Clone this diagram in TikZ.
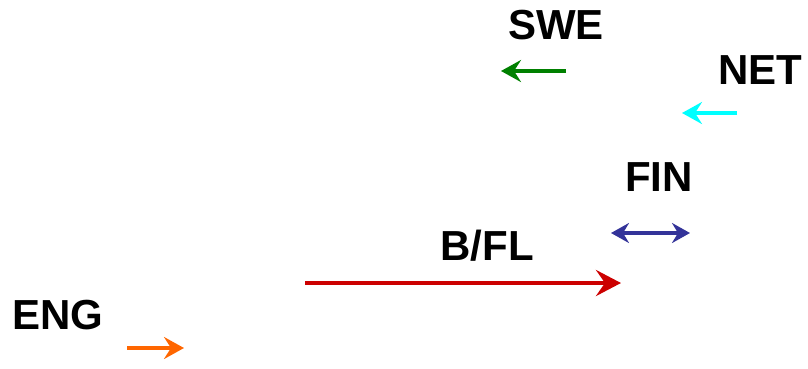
\documentclass[tikz,border=0pt]{standalone}
\usepackage{fontspec}
\setmainfont{Liberation Sans}
\usetikzlibrary{arrows.meta}
\definecolor{cgreen}{RGB}{0,128,0}
\definecolor{ccyan}{RGB}{0,255,255}
\definecolor{cnavy}{RGB}{51,51,153}
\definecolor{cred}{RGB}{204,0,0}
\definecolor{corange}{RGB}{255,102,0}
\tikzset{
  lbl/.style={font=\fontsize{42}{42}\selectfont\bfseries, inner sep=0pt, anchor=center},
  arr/.style={line width=4pt, -{Stealth[length=20pt,width=22pt,inset=7pt]}},
  darr/.style={line width=4pt, {Stealth[length=18pt,width=20pt,inset=6pt]}-{Stealth[length=18pt,width=20pt,inset=6pt]}},
}
\begin{document}
\begin{tikzpicture}[x=1pt,y=-1pt]
\useasboundingbox (0,0) rectangle (808,368);
\node[lbl] (swe) at (556,25) {SWE};
\node[lbl] (net) at (760,70) {NET};
\node[lbl] (fin) at (659,177) {FIN};
\node[lbl] (bfl) at (487,246) {B/FL};
\node[lbl] (eng) at (58,315) {ENG};
\coordinate (swe1) at (566,71); \coordinate (swe2) at (501,71);
\coordinate (net1) at (737,113); \coordinate (net2) at (682,113);
\coordinate (fin1) at (611,233); \coordinate (fin2) at (690,233);
\coordinate (bfl1) at (305,283); \coordinate (bfl2) at (621,283);
\coordinate (eng1) at (127,348); \coordinate (eng2) at (184,348);
\draw[arr, cgreen] (swe1) -- (swe2);
\draw[arr, ccyan] (net1) -- (net2);
\draw[darr, cnavy] (fin1) -- (fin2);
\draw[arr, cred, -{Stealth[length=25pt,width=26pt,inset=9pt]}] (bfl1) -- (bfl2);
\draw[arr, corange] (eng1) -- (eng2);
\end{tikzpicture}
\end{document}
